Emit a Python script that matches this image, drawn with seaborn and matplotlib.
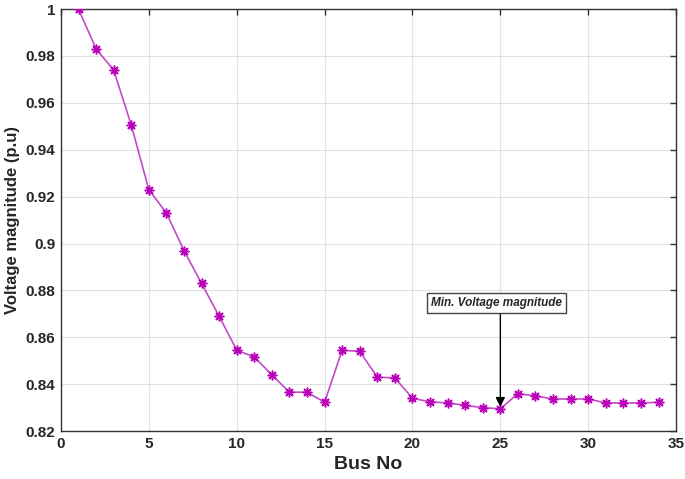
import numpy as np
import pandas as pd
import matplotlib
matplotlib.use('Agg')
import matplotlib.pyplot as plt
import matplotlib.ticker as mticker
import seaborn as sns

bus_no = list(range(1, 35))
voltage = [1.000, 0.983, 0.974, 0.9505, 0.923, 0.913, 0.897, 0.883, 0.869, 0.8545,
           0.8516, 0.844, 0.8366, 0.8366, 0.8323, 0.8545, 0.854, 0.843, 0.8427, 0.834,
           0.8325, 0.832, 0.831, 0.830, 0.8295, 0.836, 0.835, 0.8337, 0.8337, 0.8337,
           0.832, 0.832, 0.832, 0.8323]
x_ticks = [0, 5, 10, 15, 20, 25, 30, 35]
y_ticks = [0.82, 0.84, 0.86, 0.88, 0.9, 0.92, 0.94, 0.96, 0.98, 1.0]

df = pd.DataFrame({'Bus': bus_no, 'V': voltage})

sns.set_style('white')
plt.rcParams['font.family'] = ['Liberation Sans Narrow', 'Liberation Sans', 'DejaVu Sans']

fig = plt.figure(figsize=(6.85, 4.79), dpi=100)
ax = fig.add_axes([0.089, 0.100, 0.898, 0.881])

# MATLAB-style asterisk marker (8 arms)
sns.lineplot(data=df, x='Bus', y='V', ax=ax, color='#c44ac8', linewidth=1.2,
             marker=(8, 2, 0), markersize=7, markeredgewidth=1.1,
             markerfacecolor='#b800b8', markeredgecolor='#b800b8', zorder=3)

ax.set_xlim(0, 35)
ax.set_ylim(0.82, 1.0)
ax.set_xticks(x_ticks)
ax.set_yticks(y_ticks)
ax.yaxis.set_major_formatter(mticker.FormatStrFormatter('%g'))
ax.grid(True, color='#e0e0e0', linewidth=0.8)
ax.set_axisbelow(True)
ax.tick_params(direction='in', length=4, width=1, color='#333333',
               top=True, right=True, labelsize=11, pad=4)
for lbl in ax.get_xticklabels() + ax.get_yticklabels():
    lbl.set_fontweight('bold')
for sp in ax.spines.values():
    sp.set_color('#333333')
    sp.set_linewidth(1.0)

ax.set_xlabel('Bus No', fontsize=14, fontweight='bold', labelpad=4)
ax.set_ylabel('Voltage magnitude (p.u)', fontsize=12, fontweight='bold', labelpad=4)

ax.annotate('', xy=(25, 0.8303), xytext=(25, 0.8705),
            arrowprops=dict(arrowstyle='-|>', color='black', lw=1.0,
                            mutation_scale=14, shrinkA=0, shrinkB=0))
ax.text(24.8, 0.8745, 'Min. Voltage magnitude', ha='center', va='center',
        fontsize=8.5, fontweight='bold', fontstyle='italic',
        bbox=dict(boxstyle='square,pad=0.35', facecolor='white',
                  edgecolor='#444444', linewidth=1.0))

fig.savefig('out.png', dpi=100)
